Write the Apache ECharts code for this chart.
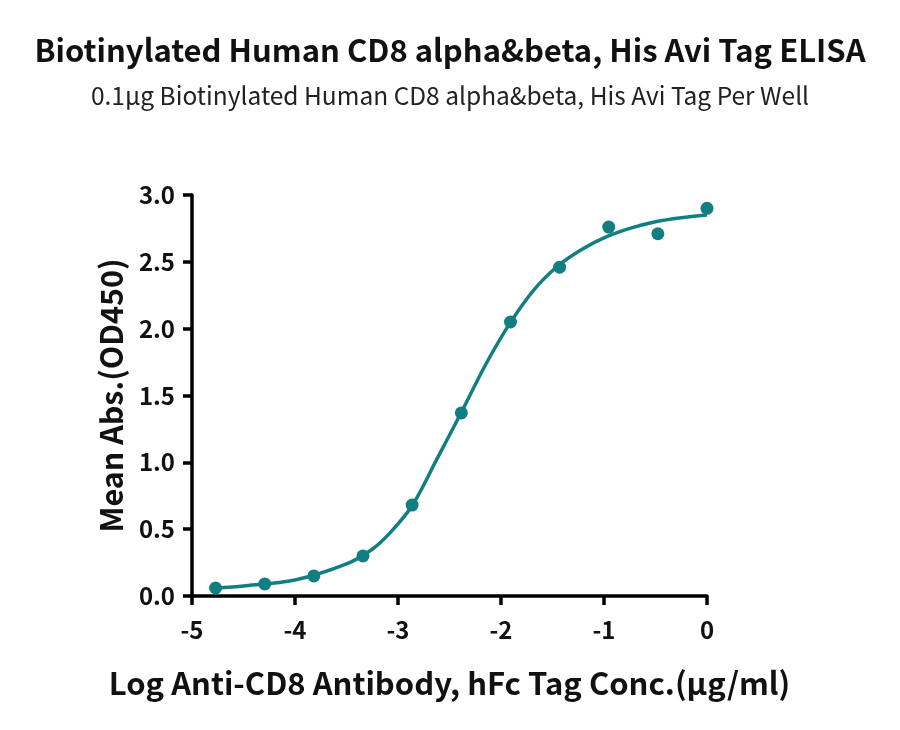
<!DOCTYPE html>
<html>
<head>
<meta charset="utf-8">
<script src="https://cdn.jsdelivr.net/npm/echarts@6/dist/echarts.min.js"></script>
<style>html,body{margin:0;padding:0;background:#fff}#c{width:900px;height:730px}</style>
</head>
<body>
<div id="c"></div>
<script>
var titleText = 'Biotinylated Human CD8 alpha&beta, His Avi Tag ELISA';
var subtitleText = '0.1μg Biotinylated Human CD8 alpha&beta, His Avi Tag Per Well';
var xName = 'Log Anti-CD8 Antibody, hFc Tag Conc.(μg/ml)';
var yName = 'Mean Abs.(OD450)';
var logConc = [0, -0.477, -0.954, -1.431, -1.908, -2.385, -2.863, -3.340, -3.817, -4.294, -4.771];
var meanAbs = [2.90, 2.71, 2.76, 2.46, 2.05, 1.37, 0.68, 0.30, 0.15, 0.09, 0.06];
var curveX = [-4.77, -4.5, -4.0, -3.5, -3.25, -3.08, -2.863, -2.625, -2.385, -2.15, -1.908, -1.67, -1.431, -1.2, -1.0, -0.75, -0.5, -0.25, 0];
var curveY = [0.06, 0.075, 0.12, 0.24, 0.35, 0.47, 0.675, 1.02, 1.374, 1.73, 2.047, 2.30, 2.48, 2.60, 2.68, 2.75, 2.80, 2.83, 2.85];
var FONT = '"Noto Sans CJK SC", "Noto Sans", sans-serif';
var COLOR = '#117f82';

var chart = echarts.init(document.getElementById('c'));
chart.setOption({
  animation: false,
  title: [
    {text: titleText, left: 'center', top: 30, textStyle: {fontFamily: FONT, fontSize: 31, fontWeight: 'bold', color: '#111'}},
    {text: subtitleText, left: 'center', top: 78, textStyle: {fontFamily: FONT, fontSize: 24.5, fontWeight: 'normal', color: '#222'}}
  ],
  grid: {left: 192, right: 193, top: 195, bottom: 134, containLabel: false},
  xAxis: {
    type: 'value', min: -5, max: 0, interval: 1,
    name: xName, nameLocation: 'middle', nameGap: 72,
    nameTextStyle: {fontFamily: FONT, fontSize: 31, fontWeight: 'bold', color: '#111'},
    axisLine: {onZero: false, lineStyle: {color: '#000', width: 3.5}},
    axisTick: {length: 9, lineStyle: {color: '#000', width: 3.5}},
    axisLabel: {fontFamily: FONT, fontSize: 24, fontWeight: 'bold', color: '#111', margin: 22},
    splitLine: {show: false}
  },
  yAxis: {
    type: 'value', min: 0, max: 3, interval: 0.5,
    name: yName, nameLocation: 'middle', nameGap: 65,
    nameTextStyle: {fontFamily: FONT, fontSize: 30.5, fontWeight: 'bold', color: '#111'},
    axisLine: {show: true, onZero: false, lineStyle: {color: '#000', width: 3.5}},
    axisTick: {show: true, length: 9, lineStyle: {color: '#000', width: 3.5}},
    axisLabel: {fontFamily: FONT, fontSize: 24, fontWeight: 'bold', color: '#111', margin: 17,
      formatter: function (v) { return v.toFixed(1); }},
    splitLine: {show: false}
  },
  series: [
    {type: 'line', data: curveX.map(function (x, i) { return [x, curveY[i]]; }),
      smooth: 0.3, showSymbol: false, symbol: 'none', lineStyle: {color: COLOR, width: 3.5}, z: 2},
    {type: 'scatter', data: logConc.map(function (x, i) { return [x, meanAbs[i]]; }),
      symbol: 'circle', symbolSize: 13, itemStyle: {color: COLOR, opacity: 1}, z: 3}
  ]
});
</script>
</body>
</html>
